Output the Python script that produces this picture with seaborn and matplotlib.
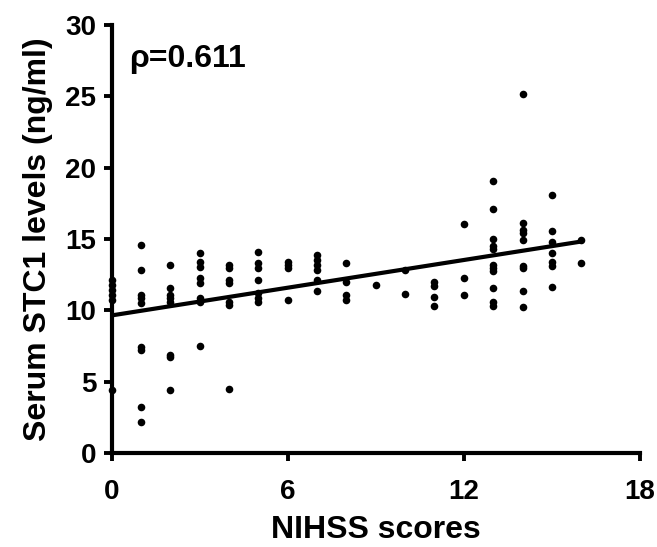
import numpy as np
import pandas as pd
import matplotlib
matplotlib.use("Agg")
import matplotlib.pyplot as plt
import seaborn as sns

# NIHSS score per group and the serum STC1 values
nihss_0 = [12.1, 11.77, 11.4, 11.07, 10.7, 4.4]
nihss_1 = [14.55, 12.8, 11.07, 10.84, 10.5, 7.4, 7.2, 3.25, 2.2]
nihss_2 = [13.15, 11.6, 11.07, 10.84, 10.6, 6.87, 6.7, 4.4]
nihss_3 = [14.05, 13.36, 13.06, 12.24, 11.9, 10.84, 10.6, 7.5]
nihss_4 = [13.17, 12.94, 12.1, 11.9, 10.6, 10.37, 4.48]
nihss_5 = [14.1, 13.3, 12.94, 12.12, 11.2, 10.84, 10.6]
nihss_6 = [13.4, 13.17, 12.94, 10.7]
nihss_7 = [13.9, 13.5, 13.17, 12.82, 12.12, 11.35]
nihss_8 = [13.3, 12.0, 11.07, 10.7]
nihss_9 = [11.77]
nihss_10 = [12.82, 11.14]
nihss_11 = [12.0, 11.7, 10.95, 10.3]
nihss_12 = [16.05, 12.24, 11.1]
nihss_13 = [19.06, 17.08, 15.02, 14.5, 14.27, 13.17, 12.94, 12.75, 11.6, 10.6, 10.32]
nihss_14 = [25.16, 16.1, 15.63, 15.4, 14.93, 13.1, 12.94, 11.37, 10.2]
nihss_15 = [18.08, 15.56, 14.8, 14.0, 13.4, 13.1, 11.65]
nihss_16 = [14.93, 13.34]

groups = [nihss_0, nihss_1, nihss_2, nihss_3, nihss_4, nihss_5, nihss_6, nihss_7,
          nihss_8, nihss_9, nihss_10, nihss_11, nihss_12, nihss_13, nihss_14,
          nihss_15, nihss_16]

rows = []
for score, vals in enumerate(groups):
    for v in vals:
        rows.append((score, v))
df = pd.DataFrame(rows, columns=["NIHSS", "STC1"])

sns.set_theme(style="ticks")
plt.rcParams['font.family'] = ['Liberation Sans', 'DejaVu Sans']
plt.rcParams['font.weight'] = 'bold'
plt.rcParams['text.color'] = 'black'
plt.rcParams['axes.labelcolor'] = 'black'

fig = plt.figure(figsize=(6.57, 5.47), dpi=100)
ax = fig.add_axes([0.170, 0.172, 0.804, 0.782])

sns.regplot(data=df, x="NIHSS", y="STC1", ax=ax, ci=None, color="black",
            scatter_kws={"s": 30, "alpha": 1, "linewidths": 0, "clip_on": False, "zorder": 3},
            line_kws={"linewidth": 3.0, "solid_capstyle": "round", "zorder": 4})

ax.set_xlim(0, 18)
ax.set_ylim(0, 30)
ax.set_xticks([0, 6, 12, 18])
ax.set_yticks([0, 5, 10, 15, 20, 25, 30])
sns.despine(ax=ax)
for side in ["left", "bottom"]:
    ax.spines[side].set_linewidth(3.0)
    ax.spines[side].set_color("black")
ax.tick_params(axis="both", length=6, width=2.8, color="black",
               labelsize=20, labelcolor="black", direction="out")
ax.tick_params(axis="x", pad=13)
ax.tick_params(axis="y", pad=5)
for lab in ax.get_xticklabels() + ax.get_yticklabels():
    lab.set_fontweight("bold")

ax.set_xlabel("NIHSS scores", fontsize=23, fontweight="bold", labelpad=7, color="black")
ax.set_ylabel("Serum STC1 levels (ng/ml)", fontsize=23, fontweight="bold", labelpad=9, color="black")

ax.text(0.6, 27.6, "ρ=0.611", fontsize=23, fontweight="bold", va="center", ha="left", color="black")

fig.savefig("out.png", dpi=100)
